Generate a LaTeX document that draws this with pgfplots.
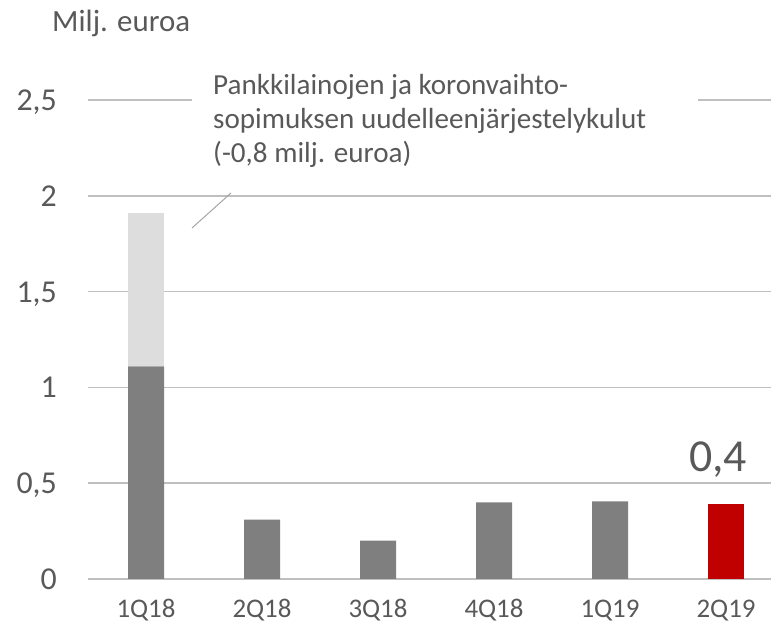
\documentclass[border=0pt]{standalone}
\usepackage{pgfplots}
\pgfplotsset{compat=1.18}
\usepackage{fontspec}
\setmainfont{Carlito}
\definecolor{txt}{HTML}{595959}
\definecolor{gridc}{HTML}{BFBFBF}
\definecolor{dgray}{HTML}{7F7F7F}
\definecolor{lgray}{HTML}{DDDDDD}
\definecolor{myred}{HTML}{C00000}
\definecolor{leader}{HTML}{A6A6A6}
\begin{document}
\begin{tikzpicture}[x=1bp,y=1bp]
\path[use as bounding box] (0,0) rectangle (771,624);
\begin{axis}[
  at={(88bp,45bp)}, anchor=south west,
  scale only axis, width=683bp, height=479bp,
  xmin=-0.5, xmax=5.388, ymin=0, ymax=2.5,
  ybar stacked, bar width=36bp,
  axis line style={draw=none},
  ymajorgrids, grid style={gridc, line width=1.5bp},
  ytick={0,0.5,1,1.5,2,2.5},
  yticklabels={0,{0,5},1,{1,5},2,{2,5}},
  xtick={0,1,2,3,4,5},
  xticklabels={1Q18,2Q18,3Q18,4Q18,1Q19,2Q19},
  major tick length=0pt,
  yticklabel style={font=\fontsize{32}{38}\selectfont, text=txt, anchor=base east, inner sep=0pt, xshift=-31bp, yshift=-10.5bp},
  xticklabel style={font=\fontsize{27}{32}\selectfont, text=txt, anchor=base, inner sep=0pt, yshift=-38.5bp},
]
\addplot[fill=dgray, draw=none] coordinates {(0,1.11) (1,0.31) (2,0.20) (3,0.40) (4,0.405) (5,0)};
\addplot[fill=myred, draw=none] coordinates {(0,0) (1,0) (2,0) (3,0) (4,0) (5,0.39)};
\addplot[fill=lgray, draw=none] coordinates {(0,0.80) (1,0) (2,0) (3,0) (4,0) (5,0)};
\end{axis}
\fill[white] (192,514) rectangle (698,534);
\draw[leader, line width=1bp] (192,396) -- (231,431);
\begin{scope}[every node/.style={anchor=base west, inner sep=0pt, text=txt, font=\fontsize{29.2}{35}\selectfont}]
\node at (213,529) {Pankkilainojen ja koronvaihto-};
\node at (213,495) {sopimuksen uudelleenjärjestelykulut};
\node at (213,461) {(-0,8 milj. euroa)};
\end{scope}
\node[anchor=base west, inner sep=0pt, text=txt, font=\fontsize{31}{37}\selectfont] at (52,592) {Milj. euroa};
\node[anchor=base, inner sep=0pt, text=txt, font=\fontsize{46}{55}\selectfont] at (718,152) {0,4};
\end{tikzpicture}
\end{document}
